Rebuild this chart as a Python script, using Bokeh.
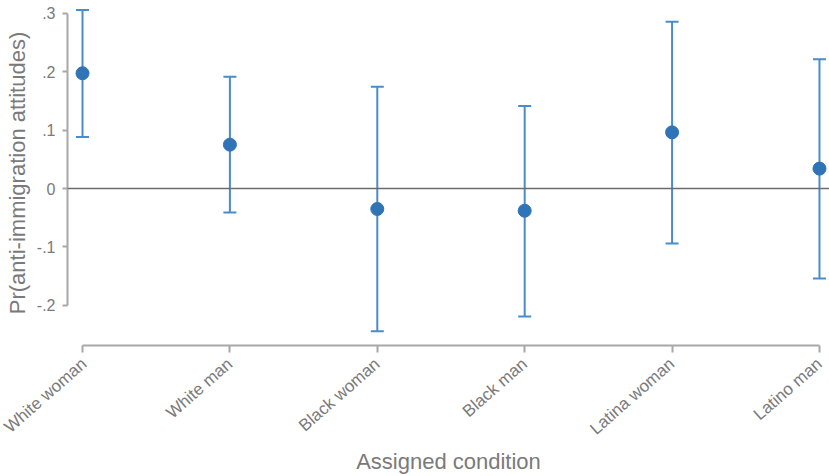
from bokeh.plotting import figure
from bokeh.models import ColumnDataSource, Whisker, TeeHead, Span, FixedTicker, Range1d
from bokeh.embed import file_html
from bokeh.resources import INLINE

categories = ["White woman", "White man", "Black woman", "Black man", "Latina woman", "Latino man"]
estimates = [0.197, 0.075, -0.035, -0.038, 0.096, 0.034]
lower_ci = [0.088, -0.041, -0.244, -0.219, -0.094, -0.154]
upper_ci = [0.305, 0.191, 0.174, 0.141, 0.285, 0.221]
y_ticks = [-0.2, -0.1, 0.0, 0.1, 0.2, 0.3]
y_tick_labels = ["-.2", "-.1", "0", ".1", ".2", ".3"]

xpos = list(range(len(categories)))
source = ColumnDataSource(data=dict(x=xpos, est=estimates, lower=lower_ci, upper=upper_ci))

FONT = "Liberation Sans"
BLUE_LINE = "#4a8ccb"
BLUE_PT = "#2f74b6"
AXIS_GRAY = "#a8a8a8"
TEXT_GRAY = "#7a7a7a"

p = figure(width=829, height=476, output_backend="svg", toolbar_location=None,
           x_range=Range1d(-0.1018, 5.068), y_range=Range1d(-0.2684, 0.3214),
           min_border_top=0, min_border_right=0, min_border_left=67, min_border_bottom=0)
p.outline_line_color = None
p.xgrid.grid_line_color = None
p.ygrid.grid_line_color = None

zero = Span(location=0, dimension="width", line_color="#6b6b6b", line_width=1.6)
p.add_layout(zero)

wh = Whisker(base="x", lower="lower", upper="upper", source=source,
             line_color=BLUE_LINE, line_width=2,
             upper_head=TeeHead(size=13, line_color=BLUE_LINE, line_width=2),
             lower_head=TeeHead(size=13, line_color=BLUE_LINE, line_width=2))
p.add_layout(wh)

p.scatter("x", "est", source=source, size=13, fill_color=BLUE_PT, line_color=BLUE_PT)

# y axis
ya = p.yaxis[0]
ya.ticker = FixedTicker(ticks=y_ticks)
ya.major_label_overrides = {t: l for t, l in zip(y_ticks, y_tick_labels)}
ya.bounds = (y_ticks[0], y_ticks[-1])
ya.axis_label = "Pr(anti-immigration attitudes)"
ya.minor_tick_line_color = None
ya.major_tick_in = 0
ya.major_tick_out = 5

# x axis
xa = p.xaxis[0]
xa.ticker = FixedTicker(ticks=xpos)
xa.major_label_overrides = {i: c for i, c in zip(xpos, categories)}
xa.bounds = (0, len(categories) - 1)
xa.axis_label = "Assigned condition"
xa.minor_tick_line_color = None
xa.major_tick_in = 0
xa.major_tick_out = 7
xa.major_label_orientation = 0.72

for ax in (xa, ya):
    ax.axis_line_color = AXIS_GRAY
    ax.axis_line_width = 2
    ax.major_tick_line_color = AXIS_GRAY
    ax.major_tick_line_width = 2
    ax.major_label_text_font = FONT
    ax.major_label_text_font_size = "16px"
    ax.major_label_text_color = TEXT_GRAY
    ax.axis_label_text_font = FONT
    ax.axis_label_text_font_size = "22px"
    ax.axis_label_text_font_style = "normal"
    ax.axis_label_text_color = TEXT_GRAY

xa.major_label_text_font_size = "17px"
ya.major_label_standoff = 7
ya.axis_label_standoff = 4
xa.major_label_standoff = 9
xa.axis_label_standoff = 0

open("out.html", "w").write(file_html(p, INLINE))
